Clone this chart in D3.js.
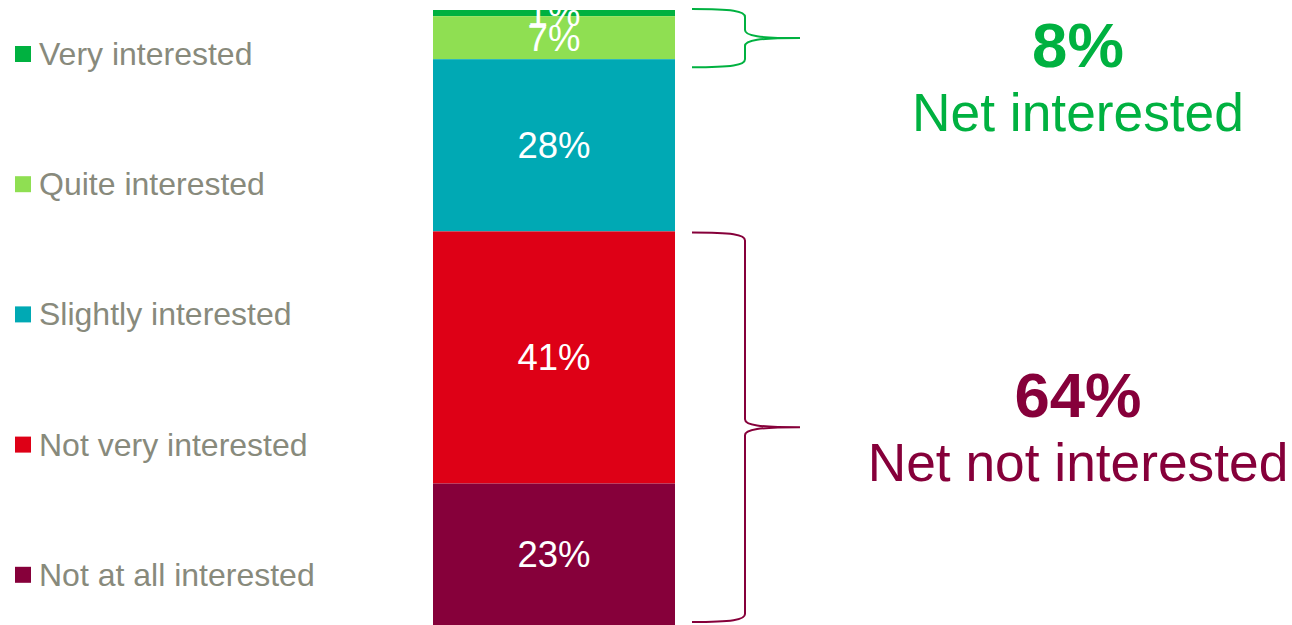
<!DOCTYPE html>
<html>
<head>
<meta charset="utf-8">
<script src="https://cdn.jsdelivr.net/npm/d3@7"></script>
<style>
  html, body { margin: 0; padding: 0; background: #fff; }
  svg { display: block; font-family: "Liberation Sans", Arial, sans-serif; }
</style>
</head>
<body>
<svg id="chart" width="1292" height="625"></svg>
<script>
// Interest levels, top of the bar first
const categories = ["Very interested", "Quite interested", "Slightly interested", "Not very interested", "Not at all interested"];
const values = [1, 7, 28, 41, 23];
const colors = ["#00b140", "#8fdf52", "#00a9b4", "#de0016", "#86003a"];

// Net groupings shown beside the bar
const netLabels = ["Net interested", "Net not interested"];
const netValues = [8, 64];
const netRanges = [[0, 2], [3, 5]]; // category index ranges [start, end)
const netColors = ["#00b140", "#86003a"];

const svg = d3.select("#chart");

const y = d3.scaleLinear().domain([0, 100]).range([10, 625]);
const x = d3.scaleBand().domain(["all"]).range([433, 675]).padding(0);

// Cumulative stacking
const stack = [];
let acc = 0;
values.forEach((v, i) => {
  stack.push({ cat: categories[i], v, y0: acc, y1: acc + v, color: colors[i] });
  acc += v;
});

// Bar segments
svg.append("g").selectAll("rect").data(stack).join("rect")
  .attr("x", x("all"))
  .attr("width", x.bandwidth())
  .attr("y", d => y(d.y0))
  .attr("height", d => y(d.y1) - y(d.y0))
  .attr("fill", d => d.color);

// Segment value labels
svg.append("g").selectAll("text").data(stack).join("text")
  .attr("x", x("all") + x.bandwidth() / 2)
  .attr("y", d => y((d.y0 + d.y1) / 2) + 13)
  .attr("text-anchor", "middle")
  .attr("fill", "#fff")
  .attr("font-size", 36.5)
  .text(d => d.v + "%");

// Legend
const legend = svg.append("g").selectAll("g").data(stack).join("g")
  .attr("transform", (d, i) => `translate(15, ${65 + i * 130.2})`);
legend.append("rect")
  .attr("x", 0).attr("y", -19).attr("width", 16).attr("height", 16)
  .attr("fill", d => d.color);
legend.append("text")
  .attr("x", 24).attr("y", 0)
  .attr("fill", "#888a7c")
  .attr("font-size", 32)
  .text(d => d.cat);

// Curly braces grouping the net categories
function bracePath(y0, y1) {
  const xs = 692, xv = 745, xt = 800, ym = (y0 + y1) / 2;
  return `M${xs},${y0} C${xs + 40},${y0} ${xv},${y0 + 2} ${xv},${y0 + 8}` +
         ` L${xv},${ym - 8} C${xv},${ym - 2} ${xv + 14},${ym} ${xt},${ym}` +
         ` C${xv + 14},${ym} ${xv},${ym + 2} ${xv},${ym + 8}` +
         ` L${xv},${y1 - 8} C${xv},${y1 - 2} ${xs + 40},${y1} ${xs},${y1}`;
}
const braceSpans = [
  [y(stack[netRanges[0][0]].y0) - 1, y(stack[netRanges[0][1] - 1].y1) + 8],
  [y(stack[netRanges[1][0]].y0) + 1, y(stack[netRanges[1][1] - 1].y1) - 3]
];
svg.append("g").selectAll("path").data(braceSpans).join("path")
  .attr("d", d => bracePath(d[0], d[1]))
  .attr("fill", "none")
  .attr("stroke", (d, i) => netColors[i])
  .attr("stroke-width", 2);

// Net totals
const netG = svg.append("g").selectAll("g").data(netLabels).join("g")
  .attr("transform", (d, i) => `translate(1078, ${[67, 417][i]})`);
netG.append("text")
  .attr("text-anchor", "middle")
  .attr("font-size", 63.5)
  .attr("font-weight", "bold")
  .attr("fill", (d, i) => netColors[i])
  .text((d, i) => netValues[i] + "%");
netG.append("text")
  .attr("y", 64)
  .attr("text-anchor", "middle")
  .attr("font-size", 53.3)
  .attr("fill", (d, i) => netColors[i])
  .text(d => d);
</script>
</body>
</html>
